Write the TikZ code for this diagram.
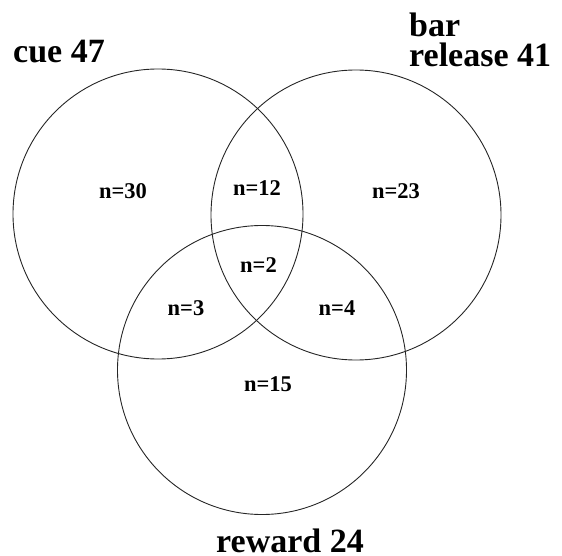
\documentclass[tikz,border=0pt]{standalone}
\usepackage{fontspec}
\setmainfont{Liberation Serif}
\begin{document}
\begin{tikzpicture}[x=1pt,y=-1pt,
  ring/.style={draw=black!85,line width=0.9pt},
  title/.style={font=\fontsize{34}{34}\selectfont\bfseries,inner sep=0pt},
  count/.style={font=\fontsize{22.5}{22.5}\selectfont\bfseries,inner sep=0pt,anchor=base}]
\useasboundingbox (0,0) rectangle (562,556);
\draw[ring] (158,214) circle[radius=145pt];
\draw[ring] (356,215) circle[radius=145pt];
\draw[ring] (262,370) circle[radius=144.5pt];
\node[title,anchor=base west] (cue) at (13,63) {cue 47};
\node[title,anchor=base west] (bar) at (409,37) {bar};
\node[title,anchor=base west] (rel) at (409,67) {release 41};
\node[title,anchor=base west] (rew) at (216,552) {reward 24};
\node[count] (c30) at (123,199) {n=30};
\node[count] (c12) at (257,196) {n=12};
\node[count] (c23) at (396,199) {n=23};
\node[count] (c2) at (258.5,272) {n=2};
\node[count] (c3) at (186,315) {n=3};
\node[count] (c4) at (337,315) {n=4};
\node[count] (c15) at (268,391) {n=15};
\end{tikzpicture}
\end{document}
